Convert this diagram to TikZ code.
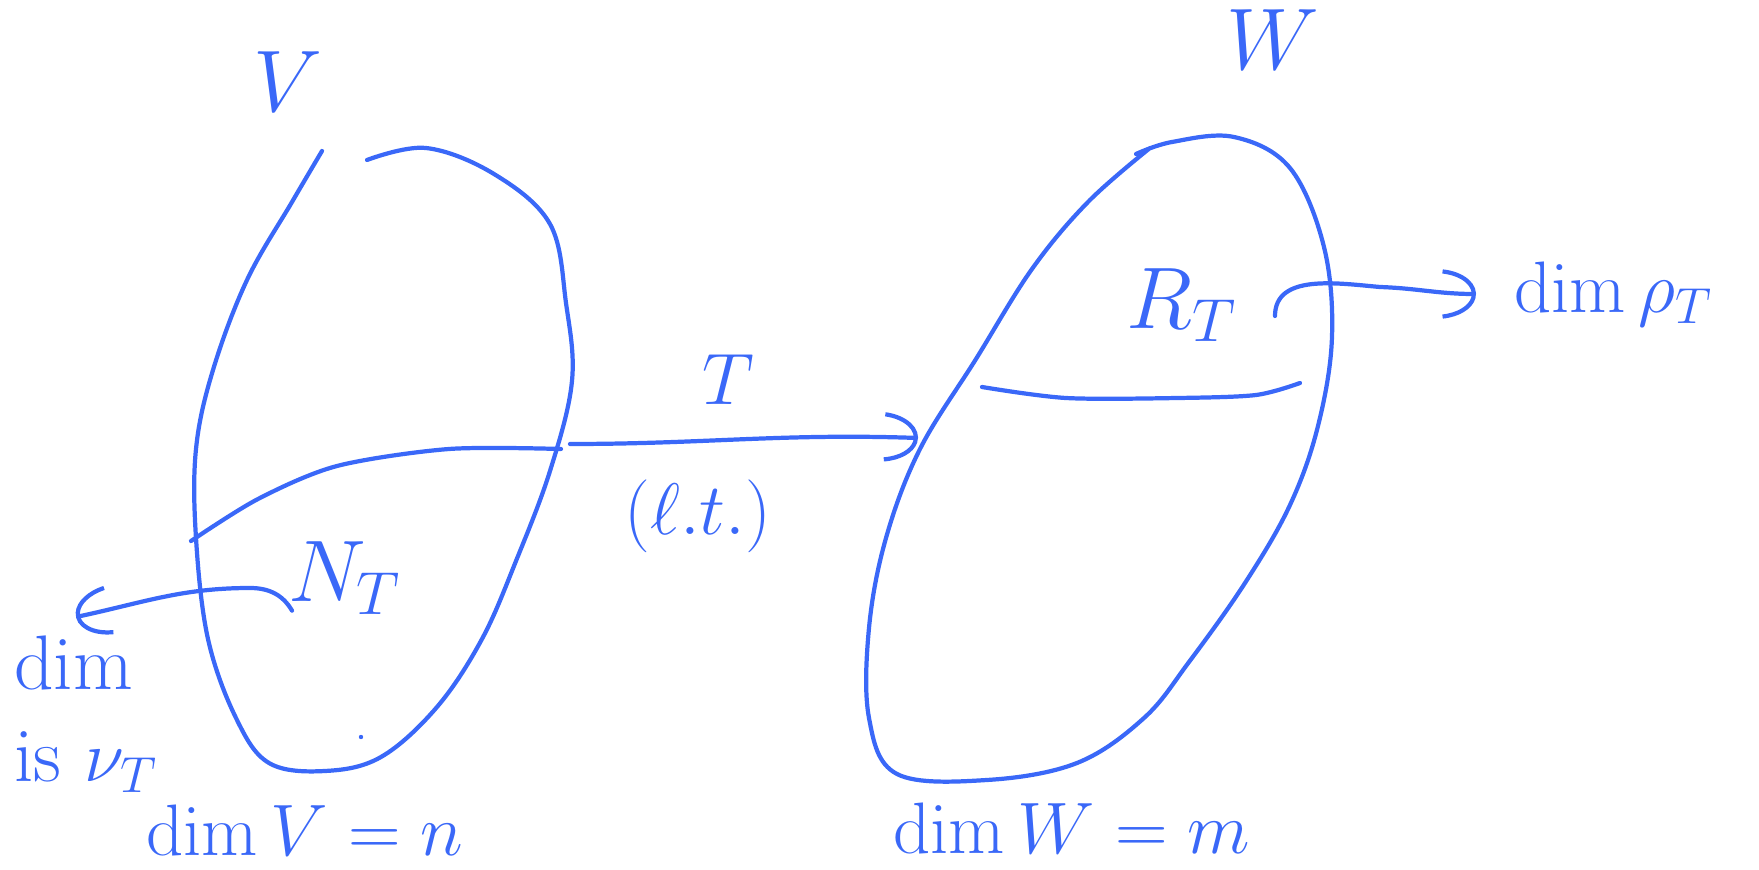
\documentclass[tikz,border=0pt]{standalone}
\usepackage{amsmath,amssymb}
\usepackage{xcolor}
\usepackage{tikz}
\usetikzlibrary{positioning, arrows.meta, calc}
\definecolor{penBlue}{HTML}{3A68F8}

\begin{document}
\begin{tikzpicture}[
        x=0.01cm, y=-0.01cm,
        font=\fontsize{22}{26}\selectfont, >=Stealth,
        ink/.style={draw=penBlue, line width=1.2pt, line cap=round, line join=round},
        lbl/.style={text=penBlue, inner sep=1pt},
        big/.style={lbl, font=\fontsize{27}{30}\selectfont},
        arr/.style={ink, -{Arc Barb[length=4mm, width=5mm, arc=160]}}]
        \useasboundingbox (0,0) rectangle (1759,870);
        % the two spaces
        \draw[ink] plot[smooth, tension=0.6] coordinates {(367,160) (426,148) (494,174) (550,224) (566,303) (572,381)
              (550,471) (516,561) (482,639) (437,707) (381,757) (325,771) (269,763) (236,718) (208,639)
              (196,538) (196,449) (213,370) (247,280) (292,202) (322,151)};
        \draw[ink] plot[smooth, tension=0.6] coordinates {(1136,154) (1172,142) (1234,137) (1290,168) (1324,247) (1332,337)
              (1318,426) (1290,505) (1245,583) (1189,662) (1144,718) (1077,763) (987,780) (897,774) (869,718)
              (869,628) (886,538) (920,449) (976,359) (1032,269) (1088,202) (1150,148)};
        \fill[penBlue] (361,737) circle (2.2);
        % kernel and range
        \draw[ink] plot[smooth, tension=0.5] coordinates {(191,541) (258,499) (337,466) (449,449) (561,449)};
        \draw[ink] plot[smooth, tension=0.5] coordinates {(982,387) (1066,398) (1178,398) (1256,395) (1300,383)};
        \node[big] (vV) at (288,82) {$V$};
        \node[big] (vW) at (1273,40) {$W$};
        \node[big] (nT) at (345,578) {$N_T$};
        \node[big] (rT) at (1182,305) {$R_T$};
        \node[lbl] (mapT) at (728,380) {$T$};
        \node[lbl] (lt) at (698,516) {$(\ell.t.)$};
        \node[lbl] (dimV) at (305,830) {$\dim V = n$};
        \node[lbl] (dimW) at (1072,828) {$\dim W = m$};
        \node[lbl, right=4mm of {(1470,294)}] (dimR) {$\dim \rho_T$};
        \node[lbl, align=left] (dimN) at (86,714) {dim\\is $\nu_T$};
        % the map and the dimension arrows
        \coordinate (tS) at (570,444);
        \coordinate (tE) at (918,438);
        \coordinate (nE) at (76,617);
        \coordinate (rE) at (1476,294);
        \draw[arr] (tS) to[out=0, in=178] (tE);
        \draw[arr] ($(nT.south west)+(8,-8)$) to[out=120, in=0] (250,588) to[out=180, in=12] (nE);
        \draw[arr] (1275,316) to[out=90, in=175] (1380,287) to[out=-2, in=180] (rE);
      \end{tikzpicture}
\end{document}
